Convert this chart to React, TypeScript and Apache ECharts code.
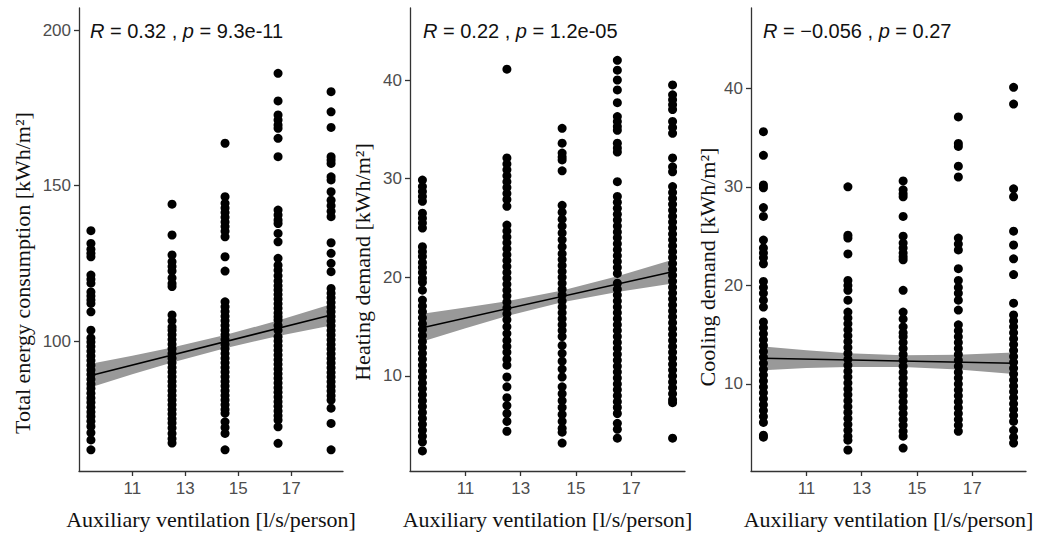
import React, { useEffect, useRef } from "react";
import * as echarts from "echarts";

// x positions of the five ventilation rates [l/s/person]
const ventilation = [9.44, 12.5, 14.5, 16.5, 18.5];
const xTicks = [11, 13, 15, 17];

// ---- Total energy consumption [kWh/m2] per ventilation rate ----
const energyV1 = [135.5, 131.4, 129.5, 128.2, 127.1, 121.2, 119.9, 118.6, 115.8, 114.5, 113.2, 112.1, 109.4, 103.5, 101, 99.7, 98.2, 96.7, 95.2, 93.7, 92.2, 90.7, 89.2, 87.7, 86.2, 84.7, 83.2, 81.7, 80.2, 78.7, 77.2, 75.7, 74.2, 72.5, 70.5, 68.2, 65];
const energyV2 = [144, 134.1, 127.7, 125.5, 124, 122.5, 120.3, 118.5, 117.5, 108.4, 106.5, 104.5, 103.5, 102, 100.5, 99, 97.5, 96, 94.5, 93, 91.5, 90, 88.5, 87, 85.5, 84, 82.5, 81, 79.5, 78, 76.5, 75, 73.6, 72, 70.3, 68.6, 67.2];
const energyV3 = [163.6, 146.4, 144.3, 142.8, 141.3, 139.8, 138.3, 136.8, 135.3, 133.5, 127.1, 122.5, 112.6, 111, 109.5, 108, 106.5, 105, 103.5, 102, 100.5, 99, 97.5, 96, 94.5, 93, 91.5, 90, 88.5, 87, 85.5, 84, 82.5, 81, 79.5, 78, 76.8, 74, 72.2, 70.3, 65];
const energyV4 = [186.1, 177.2, 172.7, 171.1, 169.5, 168.4, 165.2, 159.3, 142.1, 140.5, 138.9, 137.8, 134.6, 131.9, 126.6, 124.4, 122.8, 121, 119.3, 117.8, 116.4, 115, 113.5, 112, 110.5, 109, 107.8, 106.8, 105, 103.5, 101.4, 100, 98.5, 97, 95.5, 94, 92.5, 91, 89.5, 88, 86.5, 85, 83.5, 82, 80.5, 79, 77.5, 76, 74.6, 72.4, 67.1];
const energyV5 = [180.2, 173.7, 168.7, 159.3, 158.2, 157.1, 152.8, 151.8, 148, 145.3, 143.5, 141.7, 140, 131.6, 128.2, 125, 122.3, 116.9, 115.4, 113.9, 112.4, 110.9, 109.4, 107.9, 106.4, 104.9, 103.4, 101.9, 100.4, 98.9, 97.4, 95.9, 94.4, 92.9, 91.4, 89.9, 88.4, 86.9, 85.4, 83.9, 82.4, 81, 78.4, 73.5, 65];

// ---- Heating demand [kWh/m2] ----
const heatingV1 = [29.86, 29.2, 28.7, 28.2, 27.7, 26.5, 26, 25.5, 25, 23.1, 22.6, 22.1, 21.5, 21, 20.5, 19.9, 19.5, 18.7, 17.7, 17.1, 16.5, 15.9, 15.3, 14.7, 14.1, 13.5, 12.9, 12.3, 11.7, 11.1, 10.5, 9.9, 9.3, 8.7, 8.1, 7.5, 6.9, 6.3, 5.7, 5.1, 4.5, 3.9, 3.3, 2.4];
const heatingV2 = [41.1, 32.1, 31.5, 30.9, 30.3, 29.7, 29.1, 28.5, 27.9, 27.2, 25.3, 24.7, 24.1, 23.5, 22.9, 22.3, 21.7, 21.1, 20.5, 19.9, 19.3, 18.7, 18.1, 17.5, 16.9, 16.3, 15.7, 15, 14.3, 13.6, 13, 12.4, 11.7, 11.1, 9.9, 8.9, 7.8, 7, 6.2, 5.4, 4.4];
const heatingV3 = [35.1, 33.6, 32.6, 32.2, 31.9, 30.8, 27.3, 26.6, 25.9, 25.2, 24.5, 23.8, 23.1, 22.4, 21.8, 21.2, 20.6, 20, 19.4, 18.8, 18.2, 17.6, 17, 16.4, 15.8, 15.2, 14.6, 14, 13.1, 12.3, 11.5, 10.7, 9.9, 8.9, 8.2, 7.5, 6.8, 6.1, 5.4, 4.7, 4.3, 3.2];
const heatingV4 = [42, 41, 40, 39, 37.7, 36.3, 35.8, 35.3, 34.9, 33.6, 33.1, 32.7, 29.7, 28.2, 27.6, 27, 26.4, 25.8, 25.2, 24.6, 24, 23.4, 22.8, 22.2, 21.6, 21, 20.4, 19.4, 18.8, 18.2, 17.6, 17, 16.4, 15.8, 15.2, 14.6, 14, 13.4, 12.8, 12.2, 11.6, 11, 10.4, 9.8, 9.2, 8.6, 8, 7.4, 6.8, 6.2, 5.2, 4.6, 3.7];
const heatingV5 = [39.5, 38.5, 38, 37.5, 37, 35.8, 35.2, 34.6, 32.1, 31.2, 30.7, 29.2, 28.6, 28, 27.4, 26.8, 26.2, 25.6, 25, 24.4, 23.8, 23.2, 22.6, 22, 21.4, 20.8, 20.2, 19.6, 19, 18.4, 17.8, 17.2, 16.6, 16, 15.4, 14.8, 14.2, 13.6, 13, 12.4, 11.8, 11.2, 10.6, 10, 9.4, 8.8, 8.2, 7.6, 7.3, 3.7];

// ---- Cooling demand [kWh/m2] ----
const coolingV1 = [35.6, 33.2, 30.2, 29.9, 27.9, 27, 24.6, 23.8, 23.3, 22.8, 22.2, 20.4, 19.8, 19.2, 18.5, 17.8, 16.3, 15.7, 15.1, 14.5, 13.9, 13.3, 12.7, 12.1, 11.5, 10.9, 10.3, 9.7, 9.1, 8.5, 7.9, 7.3, 6.7, 6.1, 4.8, 4.6];
const coolingV2 = [30, 25.1, 24.8, 23.2, 20.5, 20, 19.5, 18.5, 17.3, 16.7, 16.1, 15.5, 14.9, 14.3, 13.7, 13.1, 12.5, 11.9, 11.3, 10.7, 10.1, 9.5, 8.9, 8.3, 7.7, 7.1, 6.5, 5.9, 5.3, 4.7, 4.3, 3.3];
const coolingV3 = [30.6, 29.7, 29.3, 29, 27, 25, 24.3, 23.8, 23.3, 22.9, 22.6, 19.5, 17.3, 16.6, 15.8, 15.2, 14.8, 14.2, 13.6, 13, 12.4, 11.8, 11.2, 10.6, 10, 9.4, 8.8, 8.2, 7.6, 7, 6.4, 5.8, 5.2, 4.7, 3.5];
const coolingV4 = [37.1, 34.4, 34.1, 32.1, 31, 24.8, 24.2, 23.6, 21.7, 20.5, 19.8, 19.2, 18.5, 17.5, 16, 15.4, 14.8, 14.2, 13.6, 13, 12.4, 11.8, 11.2, 10.6, 10, 9.4, 8.8, 8.2, 7.6, 7, 6.4, 5.8, 5.2];
const coolingV5 = [40.1, 38.4, 29.8, 29, 25.5, 24.1, 22.7, 21.1, 18.2, 17, 16.4, 15.8, 15.2, 14.6, 14, 13.4, 12.8, 12.2, 11.6, 11, 10.4, 9.8, 9.2, 8.6, 8, 7.4, 6.8, 6.2, 5.3, 4.6, 4];

// ---- linear fits (endpoints) and 95% confidence bands ----
const fitX = [9.44, 18.5];
const energyFit = [88.9, 108.4];
const heatingFit = [14.9, 20.57];
const coolingFit = [12.6, 12.1];

const bandX = [9.44, 11, 12.5, 14.5, 16.5, 18.5];
const energyBandLo = [85.1, 89.3, 93.1, 97.7, 101.6, 105.0];
const energyBandHi = [92.7, 95.3, 97.9, 101.9, 106.6, 111.8];
const heatingBandLo = [13.5, 14.83, 16.07, 17.47, 18.52, 19.37];
const heatingBandHi = [16.3, 16.93, 17.57, 18.67, 20.12, 21.77];
const coolingBandLo = [11.4, 11.61, 11.73, 11.72, 11.46, 11.0];
const coolingBandHi = [13.8, 13.41, 13.13, 12.92, 12.96, 13.2];

// ---- ticks ----
const energyTicks = [100, 150, 200];
const heatingTicks = [10, 20, 30, 40];
const coolingTicks = [10, 20, 30, 40];

// ---- texts ----
const xTitle = "Auxiliary ventilation [l/s/person]";
const yTitles = [
  "Total energy consumption [kWh/m²]",
  "Heating demand [kWh/m²]",
  "Cooling demand [kWh/m²]",
];
const corrTexts = [
  "{i|R}{n| = 0.32 , }{i|p}{n| = 9.3e-11}",
  "{i|R}{n| = 0.22 , }{i|p}{n| = 1.2e-05}",
  "{i|R}{n| = −0.056 , }{i|p}{n| = 0.27}",
];

function scatterData(cols: number[][]) {
  const out: number[][] = [];
  cols.forEach((col, i) => col.forEach((v) => out.push([ventilation[i], v])));
  return out;
}

const panels = [
  {
    cols: [energyV1, energyV2, energyV3, energyV4, energyV5],
    fit: energyFit, lo: energyBandLo, hi: energyBandHi,
    yMin: 58.2, yMax: 207.1, ticks: energyTicks,
    grid: { left: 79, top: 8, width: 264, height: 463 },
    yTitlePos: [22, 273], corrX: 90,
  },
  {
    cols: [heatingV1, heatingV2, heatingV3, heatingV4, heatingV5],
    fit: heatingFit, lo: heatingBandLo, hi: heatingBandHi,
    yMin: 0.37, yMax: 47.3, ticks: heatingTicks,
    grid: { left: 410, top: 8, width: 275, height: 463 },
    yTitlePos: [362, 262], corrX: 423,
  },
  {
    cols: [coolingV1, coolingV2, coolingV3, coolingV4, coolingV5],
    fit: coolingFit, lo: coolingBandLo, hi: coolingBandHi,
    yMin: 1.17, yMax: 48.15, ticks: coolingTicks,
    grid: { left: 751, top: 8, width: 275, height: 463 },
    yTitlePos: [707, 267], corrX: 763,
  },
];

const AXIS_COLOR = "#333333";
const LABEL_COLOR = "#4d4d4d";

export default function App() {
  const ref = useRef<HTMLDivElement>(null);

  useEffect(() => {
    if (!ref.current) return;
    const chart = echarts.init(ref.current, undefined, { renderer: "svg" });

    const grid: any[] = [];
    const xAxis: any[] = [];
    const yAxis: any[] = [];
    const series: any[] = [];
    const graphic: any[] = [];

    panels.forEach((p, i) => {
      grid.push({ ...p.grid, containLabel: false });
      xAxis.push({
        type: "value",
        gridIndex: i,
        min: 8.99,
        max: 18.95,
        axisLine: { show: true, lineStyle: { color: AXIS_COLOR, width: 1.3 } },
        axisTick: { show: true, length: 5, customValues: xTicks, lineStyle: { color: AXIS_COLOR, width: 1.3 } },
        axisLabel: {
          customValues: xTicks,
          color: LABEL_COLOR,
          fontSize: 17,
          fontFamily: "Liberation Sans",
          margin: 9,
        },
        splitLine: { show: false },
      });
      yAxis.push({
        type: "value",
        gridIndex: i,
        min: p.yMin,
        max: p.yMax,
        axisLine: { show: true, lineStyle: { color: AXIS_COLOR, width: 1.3 } },
        axisTick: { show: true, length: 5, customValues: p.ticks, lineStyle: { color: AXIS_COLOR, width: 1.3 } },
        axisLabel: {
          customValues: p.ticks,
          color: LABEL_COLOR,
          fontSize: 17,
          fontFamily: "Liberation Sans",
          margin: 8,
        },
        splitLine: { show: false },
      });

      // confidence band as a polygon through the axes' scales
      const bandRows = bandX.map((x, k) => [x, p.lo[k], p.hi[k]]);
      series.push({
        type: "custom",
        xAxisIndex: i,
        yAxisIndex: i,
        silent: true,
        z: 1,
        encode: { x: 0, y: [1, 2] },
        data: bandRows,
        renderItem: (params: any, api: any) => {
          if (params.dataIndex !== 0) return null;
          const upper = bandRows.map((r) => api.coord([r[0], r[2]]));
          const lower = bandRows.map((r) => api.coord([r[0], r[1]])).reverse();
          return {
            type: "polygon",
            shape: { points: upper.concat(lower) },
            style: { fill: "#999999", stroke: "none" },
          };
        },
      });
      // points
      series.push({
        type: "scatter",
        xAxisIndex: i,
        yAxisIndex: i,
        symbol: "circle",
        symbolSize: 9,
        itemStyle: { color: "#000000", opacity: 1 },
        data: scatterData(p.cols),
        z: 2,
      });
      // fitted line
      series.push({
        type: "line",
        xAxisIndex: i,
        yAxisIndex: i,
        symbol: "none",
        silent: true,
        lineStyle: { color: "#000000", width: 1.5 },
        data: fitX.map((x, k) => [x, p.fit[k]]),
        z: 3,
      });

      graphic.push({
        type: "text",
        x: p.yTitlePos[0],
        y: p.yTitlePos[1],
        rotation: Math.PI / 2,
        style: {
          text: yTitles[i],
          fontSize: 22,
          fontFamily: "Liberation Serif",
          fill: "#111111",
          align: "center",
          verticalAlign: "middle",
          textAlign: "center",
          textVerticalAlign: "middle",
        },
      });
      graphic.push({
        type: "text",
        x: p.grid.left + p.grid.width / 2,
        y: 519,
        style: {
          text: xTitle,
          fontSize: 22,
          fontFamily: "Liberation Serif",
          fill: "#111111",
          align: "center",
          verticalAlign: "middle",
          textAlign: "center",
          textVerticalAlign: "middle",
        },
      });
      graphic.push({
        type: "text",
        x: p.corrX,
        y: 31,
        style: {
          text: corrTexts[i],
          fontSize: 20,
          fontFamily: "Liberation Sans",
          fill: "#111111",
          align: "left",
          verticalAlign: "middle",
          textAlign: "left",
          textVerticalAlign: "middle",
          rich: {
            i: { fontSize: 20, fontFamily: "Liberation Sans", fontStyle: "italic", fill: "#111111", color: "#111111" },
            n: { fontSize: 20, fontFamily: "Liberation Sans", fill: "#111111", color: "#111111" },
          },
        },
      });
    });

    chart.setOption({
      animation: false,
      backgroundColor: "#ffffff",
      grid,
      xAxis,
      yAxis,
      series,
      graphic,
    });

    return () => chart.dispose();
  }, []);

  return (
    <div
      ref={ref}
      style={{ position: "fixed", left: 0, top: 0, width: 1045, height: 536, background: "#fff" }}
    />
  );
}
